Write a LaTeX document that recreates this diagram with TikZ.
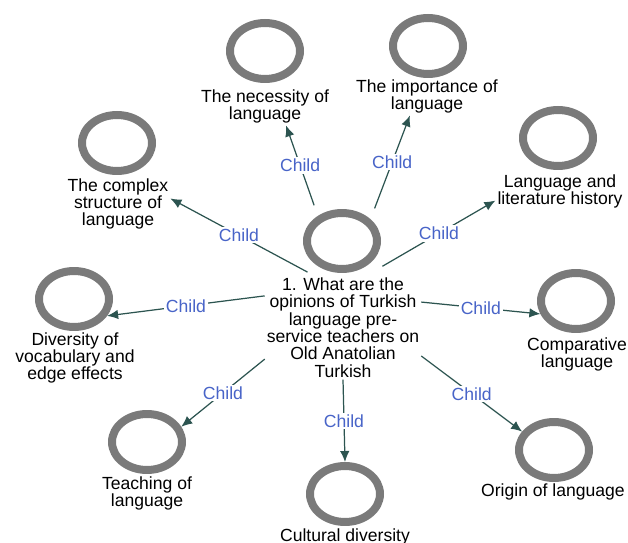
\documentclass[tikz,border=0pt]{standalone}
\usepackage{fontspec}
\setmainfont{Liberation Sans}
\usepackage{tikz}
\usetikzlibrary{arrows.meta,shapes.geometric}

\definecolor{ringgray}{RGB}{122,122,122}
\definecolor{edgeteal}{RGB}{44,84,80}
\definecolor{childblue}{RGB}{72,100,200}

\begin{document}
\begin{tikzpicture}[x=0.02cm,y=-0.02cm,>={Latex[length=2.2mm,width=1.9mm]},
  ring/.style={ellipse,draw=ringgray,line width=0.16cm,
    minimum width=1.4cm,minimum height=1.12cm,inner sep=0pt},
  lab/.style={font=\fontsize{10}{9.9}\selectfont,align=center,inner sep=1pt},
  edge/.style={->,draw=edgeteal,line width=0.7pt},
  child/.style={font=\fontsize{10}{10}\selectfont,text=childblue,
    fill=white,inner sep=1pt}]
  \useasboundingbox (0,0) rectangle (628,543);
  % ---------------- research question ----------------
  \node[ring,outer sep=0.3cm] (qR) at (342,241) {};
  \node[lab] (qT) at (343,327.5) {1. What are the\\opinions of Turkish\\language pre-\\service teachers on\\Old Anatolian\\Turkish};
  % ---------------- codes ----------------
  \node[ring] (necR) at (265,51) {};
  \node[lab] (necT) at (265,106.5) {The necessity of\\language};
  \node[ring] (impR) at (428,46) {};
  \node[lab] (impT) at (427,96.5) {The importance of\\language};
  \node[ring] (litR) at (558,138) {};
  \node[lab] (litT) at (560,191.5) {Language and\\literature history};
  \node[ring] (cpxR) at (117,143) {};
  \node[lab] (cpxT) at (118,204) {The complex\\structure of\\language};
  \node[ring] (divR) at (74,299) {};
  \node[lab] (divT) at (75,358) {Diversity of\\vocabulary and\\edge effects};
  \node[ring] (cmpR) at (576,301) {};
  \node[lab] (cmpT) at (577,354.5) {Comparative\\language};
  \node[ring] (origR) at (554,450) {};
  \node[lab] (origT) at (553,492) {Origin of language};
  \node[ring] (teachR) at (147,442) {};
  \node[lab] (teachT) at (147,493.5) {Teaching of\\language};
  \node[ring] (cultR) at (345,494) {};
  \node[lab] (cultT) at (345,537) {Cultural diversity};
  % ---------------- links ----------------
  \draw[edge] (qR.128) -- node[child] {Child} (necT.-42);
  \draw[edge] (qR.45) -- node[child] {Child} (impT.-132);
  \draw[edge] (qR.-32) -- node[child] {Child} (litT.-172);
  \draw[edge] (qR.-138) -- node[child] {Child} (cpxT.6);
  \draw[edge] (qT.158) -- node[child] {Child} (divR.-27);
  \draw[edge] (qT.18) -- node[child] {Child} (cmpR.-160);
  \draw[edge] (qT.-20) -- node[child] {Child} (origR.150);
  \draw[edge] (qT.-158) -- node[child] {Child} (teachR.24);
  \draw[edge] (qT.south) -- node[child] {Child} (cultR.north);
\end{tikzpicture}
\end{document}
